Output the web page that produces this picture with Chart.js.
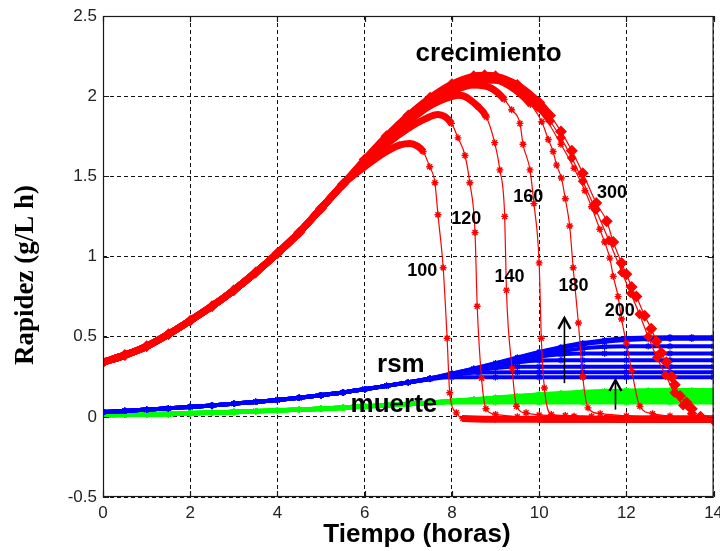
<!DOCTYPE html>
<html>
<head>
<meta charset="utf-8">
<script src="https://cdn.jsdelivr.net/npm/chart.js@4.4.1/dist/chart.umd.min.js"></script>
<style>
  html, body { margin: 0; padding: 0; background: #fff; }
  canvas { display: block; }
</style>
</head>
<body>
<canvas id="grafica" width="720" height="551"></canvas>
<script>
// Ejes
const xTicks = [0, 2, 4, 6, 8, 10, 12, 14];
const yTicks = [-0.5, 0, 0.5, 1, 1.5, 2, 2.5];
const etiquetasX = ['0', '2', '4', '6', '8', '10', '12', '14'];
const etiquetasY = ['-0.5', '0', '0.5', '1', '1.5', '2', '2.5'];

// Rapidez de crecimiento: tramo común (h, g/L h)
const tBase = [0, 0.5, 1, 1.5, 2, 2.5, 3, 3.5, 4, 4.5, 5, 5.5];
const cBase = [0.34, 0.385, 0.44, 0.515, 0.60, 0.69, 0.79, 0.90, 1.02, 1.15, 1.30, 1.45];

// Rapidez de crecimiento: tramo propio de cada caso
const t100 = [6, 6.5, 6.8, 7.04, 7.2, 7.34, 7.49, 7.61, 7.68, 7.8, 7.89, 7.95, 8.1, 8.25, 9, 10, 11, 12, 13, 14];
const c100 = [1.56, 1.655, 1.695, 1.705, 1.69, 1.655, 1.56, 1.46, 1.26, 0.93, 0.49, 0.15, 0.025, -0.01, -0.015, -0.015, -0.015, -0.015, -0.015, -0.015];
const t120 = [6, 6.5, 7, 7.4, 7.68, 7.99, 8.14, 8.3, 8.41, 8.53, 8.58, 8.68, 8.78, 9.0, 9.5, 10, 11, 12, 13, 14];
const c120 = [1.575, 1.70, 1.80, 1.86, 1.885, 1.83, 1.74, 1.63, 1.46, 1.15, 0.69, 0.24, 0.05, 0.015, 0.0, -0.015, -0.015, -0.015, -0.015, -0.015];
const t140 = [6, 6.5, 7, 7.5, 7.8, 8.18, 8.6, 8.79, 8.98, 9.1, 9.21, 9.25, 9.38, 9.48, 9.7, 10, 10.8, 11.5, 12, 13, 14];
const c140 = [1.58, 1.72, 1.84, 1.94, 1.98, 2.005, 1.935, 1.87, 1.71, 1.54, 1.25, 0.79, 0.30, 0.066, 0.025, 0.012, 0.004, -0.01, -0.015, -0.015, -0.015];
const t160 = [6, 6.5, 7, 7.5, 8, 8.5, 8.9, 9.2, 9.37, 9.56, 9.63, 9.79, 9.88, 10.0, 10.05, 10.12, 10.28, 10.6, 11.2, 12, 12.5, 13, 14];
const c160 = [1.59, 1.73, 1.86, 1.96, 2.03, 2.07, 2.05, 1.98, 1.915, 1.83, 1.70, 1.54, 1.33, 0.96, 0.49, 0.18, 0.015, 0.008, 0.003, -0.01, -0.015, -0.015, -0.015];
const t180 = [6, 6.5, 7, 7.5, 8, 8.5, 9, 9.5, 9.8, 10.06, 10.21, 10.32, 10.4, 10.51, 10.6, 10.7, 10.78, 10.9, 11.0, 11.12, 11.4, 12, 12.6, 13, 14];
const c180 = [1.59, 1.735, 1.865, 1.97, 2.05, 2.10, 2.10, 2.03, 1.95, 1.84, 1.73, 1.655, 1.57, 1.49, 1.36, 1.19, 0.93, 0.585, 0.25, 0.056, 0.02, 0.006, -0.01, -0.015, -0.015];
const t200 = [6, 6.5, 7, 7.5, 8, 8.5, 9, 9.5, 10, 10.5, 10.8, 11.05, 11.2, 11.39, 11.5, 11.62, 11.7, 11.81, 11.89, 12.0, 12.12, 12.31, 12.6, 13, 13.5, 14];
const c200 = [1.595, 1.74, 1.87, 1.975, 2.06, 2.11, 2.11, 2.05, 1.92, 1.70, 1.55, 1.41, 1.31, 1.17, 1.09, 0.99, 0.876, 0.75, 0.61, 0.46, 0.29, 0.066, 0.02, 0.005, -0.01, -0.015];
const t250 = [6, 6.5, 7, 7.5, 8, 8.5, 8.75, 9, 9.5, 10, 10.25, 10.5, 10.75, 11, 11.3, 11.6, 11.9, 12.1, 12.3, 12.5, 12.7, 12.9, 13.1, 13.3, 13.5, 13.7, 14];
const c250 = [1.60, 1.745, 1.875, 1.98, 2.065, 2.115, 2.12, 2.11, 2.05, 1.93, 1.845, 1.74, 1.615, 1.47, 1.29, 1.10, 0.90, 0.77, 0.64, 0.50, 0.37, 0.26, 0.15, 0.07, 0.02, -0.005, -0.02];
const t300 = [6, 6.5, 7, 7.5, 8, 8.5, 8.75, 9, 9.5, 10, 10.25, 10.5, 10.75, 11, 11.31, 11.55, 11.7, 11.89, 12.0, 12.12, 12.23, 12.42, 12.57, 12.69, 12.8, 12.92, 13.04, 13.11, 13.23, 13.38, 13.5, 13.7, 14];
const c300 = [1.605, 1.75, 1.88, 1.99, 2.075, 2.125, 2.13, 2.125, 2.07, 1.96, 1.88, 1.78, 1.66, 1.52, 1.333, 1.22, 1.09, 0.96, 0.89, 0.81, 0.75, 0.63, 0.55, 0.47, 0.40, 0.34, 0.25, 0.20, 0.13, 0.09, 0.05, 0.0, -0.02];

// rsm y muerte: tramo común
const tComun = [0, 0.5, 1, 1.5, 2, 2.5, 3, 3.5, 4, 4.5, 5, 5.5, 6, 6.5, 7];
const rBase = [0.03, 0.037, 0.045, 0.053, 0.062, 0.071, 0.082, 0.093, 0.105, 0.119, 0.135, 0.152, 0.172, 0.193, 0.215];
const mBase = [0.010, 0.012, 0.015, 0.018, 0.022, 0.026, 0.030, 0.035, 0.040, 0.045, 0.050, 0.057, 0.065, 0.072, 0.080];

// rsm y muerte: tramos propios
const tr100 = [7.5, 8, 9, 10, 11, 12, 13, 14];
const r100 = [0.235, 0.247, 0.247, 0.247, 0.247, 0.247, 0.247, 0.247];
const m100 = [0.086, 0.09, 0.09, 0.09, 0.09, 0.09, 0.09, 0.09];
const tr120 = [7.5, 8, 8.6, 9.5, 10, 11, 12, 13, 14];
const r120 = [0.237, 0.26, 0.276, 0.278, 0.278, 0.278, 0.278, 0.278, 0.278];
const m120 = [0.087, 0.095, 0.10, 0.101, 0.101, 0.101, 0.101, 0.101, 0.101];
const tr140 = [7.5, 8, 8.5, 9, 9.5, 10, 11, 12, 13, 14];
const r140 = [0.238, 0.262, 0.285, 0.305, 0.313, 0.313, 0.313, 0.313, 0.313, 0.313];
const m140 = [0.087, 0.096, 0.104, 0.11, 0.112, 0.112, 0.112, 0.112, 0.112, 0.112];
const tr160 = [7.5, 8, 8.5, 9, 9.5, 10, 10.5, 11, 12, 13, 14];
const r160 = [0.238, 0.264, 0.29, 0.315, 0.34, 0.352, 0.353, 0.353, 0.353, 0.353, 0.353];
const m160 = [0.088, 0.097, 0.106, 0.114, 0.12, 0.124, 0.125, 0.125, 0.125, 0.125, 0.125];
const tr180 = [7.5, 8, 8.5, 9, 9.5, 10, 10.5, 11, 11.5, 12, 13, 14];
const r180 = [0.238, 0.265, 0.292, 0.32, 0.348, 0.375, 0.39, 0.395, 0.395, 0.395, 0.395, 0.395];
const m180 = [0.088, 0.097, 0.107, 0.116, 0.124, 0.131, 0.135, 0.137, 0.137, 0.137, 0.137, 0.137];
const tr200 = [7.5, 8, 8.5, 9, 9.5, 10, 10.5, 11, 11.5, 12, 12.5, 13, 14];
const r200 = [0.238, 0.266, 0.295, 0.325, 0.355, 0.383, 0.408, 0.427, 0.437, 0.44, 0.44, 0.44, 0.44];
const m200 = [0.088, 0.097, 0.107, 0.117, 0.126, 0.135, 0.142, 0.147, 0.149, 0.15, 0.15, 0.15, 0.15];
const tr250 = [7.5, 8, 8.5, 9, 9.5, 10, 10.5, 11, 11.5, 12, 12.5, 13, 13.5, 14];
const r250 = [0.24, 0.27, 0.30, 0.333, 0.366, 0.40, 0.428, 0.452, 0.468, 0.479, 0.485, 0.487, 0.487, 0.487];
const m250 = [0.088, 0.097, 0.108, 0.118, 0.128, 0.137, 0.145, 0.152, 0.157, 0.16, 0.161, 0.162, 0.162, 0.162];
const tr300 = [7.5, 8, 8.5, 9, 9.5, 10, 10.5, 11, 11.5, 12, 12.5, 13, 13.5, 14];
const r300 = [0.24, 0.27, 0.30, 0.335, 0.37, 0.405, 0.435, 0.46, 0.478, 0.49, 0.495, 0.497, 0.497, 0.497];
const m300 = [0.088, 0.097, 0.108, 0.119, 0.129, 0.139, 0.148, 0.155, 0.16, 0.163, 0.165, 0.166, 0.166, 0.166];

// Rótulos y flechas (coordenadas en unidades de los ejes)
const rotulos = [
  { texto: 'crecimiento', x: 8.84, y: 2.22, tam: 26 },
  { texto: 'rsm', x: 6.83, y: 0.28, tam: 26 },
  { texto: 'muerte', x: 6.67, y: 0.031, tam: 26 },
  { texto: '100', x: 7.32, y: 0.88, tam: 18 },
  { texto: '120', x: 8.33, y: 1.20, tam: 18 },
  { texto: '140', x: 9.32, y: 0.84, tam: 18 },
  { texto: '160', x: 9.75, y: 1.34, tam: 18 },
  { texto: '180', x: 10.79, y: 0.786, tam: 18 },
  { texto: '200', x: 11.85, y: 0.63, tam: 18 },
  { texto: '300', x: 11.67, y: 1.366, tam: 18 }
];
const flechas = [
  { x: 10.58, y0: 0.21, y1: 0.617 },
  { x: 11.75, y0: 0.045, y1: 0.23 }
];

const ROJO = '#ff0000', AZUL = '#0000ff', VERDE = '#00ff00';
const SANS = '"Liberation Sans", Arial, sans-serif';
const SERIF = '"Liberation Serif", "Times New Roman", serif';

const pares = (t, v) => t.map((x, i) => ({ x, y: v[i] }));

// Grosor del trazo de crecimiento: banda densa donde la curva es suave, línea fina en las caídas
function anchoCrec(ctx) {
  const a = ctx.p0.parsed, b = ctx.p1.parsed;
  if (a.y <= -0.005 && b.y <= -0.005) return 7;
  const m = Math.abs((b.y - a.y) / (b.x - a.x));
  return (m < 0.35 && Math.min(a.y, b.y) > 0.1) ? 7 : 1.2;
}

const casosCrec = [
  [t100, c100, 'star', 3.5], [t120, c120, 'star', 3.5], [t140, c140, 'star', 3.5],
  [t160, c160, 'star', 3.5], [t180, c180, 'star', 3.5], [t200, c200, 'star', 3.5],
  [t250, c250, 'rectRot', 4], [t300, c300, 'rectRot', 5]
];
const casosRm = [
  [tr100, r100, m100], [tr120, r120, m120], [tr140, r140, m140], [tr160, r160, m160],
  [tr180, r180, m180], [tr200, r200, m200], [tr250, r250, m250], [tr300, r300, m300]
];

const datasets = [];
casosCrec.forEach(([t, v, estilo, radio]) => {
  datasets.push({
    data: pares(tBase.concat(t), cBase.concat(v)),
    borderColor: ROJO, backgroundColor: ROJO,
    pointBorderColor: ROJO, pointBackgroundColor: ROJO,
    pointStyle: estilo, pointRadius: radio, pointBorderWidth: 1.4,
    borderWidth: 1.2, cubicInterpolationMode: 'monotone',
    segment: { borderWidth: anchoCrec },
    order: 1
  });
});
casosRm.forEach(([t, r, m]) => {
  datasets.push({
    data: pares(tComun.concat(t), rBase.concat(r)),
    borderColor: AZUL, pointBorderColor: AZUL, backgroundColor: AZUL,
    pointStyle: 'star', pointRadius: 3.2, pointBorderWidth: 1.2,
    borderWidth: 4, cubicInterpolationMode: 'monotone', order: 2
  });
  datasets.push({
    data: pares(tComun.concat(t), mBase.concat(m)),
    borderColor: VERDE, pointBorderColor: VERDE, backgroundColor: VERDE,
    pointStyle: 'star', pointRadius: 3.2, pointBorderWidth: 1.2,
    borderWidth: 4.4, cubicInterpolationMode: 'monotone', order: 3
  });
});

// Caja, marcas interiores, flechas, rótulos y títulos de los ejes
const decoracion = {
  id: 'decoracion',
  afterDatasetsDraw(chart) {
    const { ctx, chartArea: a, scales: { x, y } } = chart;
    ctx.save();
    ctx.setLineDash([]);
    ctx.strokeStyle = '#1a1a1a';
    ctx.lineWidth = 1.2;
    ctx.strokeRect(a.left + 0.5, a.top + 0.5, a.right - a.left - 1, a.bottom - a.top - 1);
    ctx.beginPath();
    xTicks.forEach(v => {
      const px = Math.round(x.getPixelForValue(v)) + 0.5;
      ctx.moveTo(px, a.bottom); ctx.lineTo(px, a.bottom - 6);
      ctx.moveTo(px, a.top); ctx.lineTo(px, a.top + 6);
    });
    yTicks.forEach(v => {
      const py = Math.round(y.getPixelForValue(v)) + 0.5;
      ctx.moveTo(a.left, py); ctx.lineTo(a.left + 6, py);
      ctx.moveTo(a.right, py); ctx.lineTo(a.right - 6, py);
    });
    ctx.stroke();

    ctx.strokeStyle = '#000';
    flechas.forEach(f => {
      const px = x.getPixelForValue(f.x), p0 = y.getPixelForValue(f.y0), p1 = y.getPixelForValue(f.y1);
      ctx.lineWidth = 1.6;
      ctx.beginPath();
      ctx.moveTo(px, p0); ctx.lineTo(px, p1);
      ctx.stroke();
      ctx.lineWidth = 2.4;
      ctx.beginPath();
      ctx.moveTo(px - 6, p1 + 11); ctx.lineTo(px, p1); ctx.lineTo(px + 6, p1 + 11);
      ctx.stroke();
    });

    ctx.fillStyle = '#000';
    ctx.textAlign = 'center';
    ctx.textBaseline = 'alphabetic';
    rotulos.forEach(r => {
      ctx.font = 'bold ' + r.tam + 'px ' + SANS;
      ctx.fillText(r.texto, x.getPixelForValue(r.x), y.getPixelForValue(r.y));
    });

    ctx.font = 'bold 26px ' + SANS;
    ctx.fillText('Tiempo (horas)', 417, 542);
    ctx.translate(33, 275);
    ctx.rotate(-Math.PI / 2);
    ctx.font = 'bold 27px ' + SERIF;
    ctx.fillText('Rapidez (g/L h)', 0, 0);
    ctx.restore();
  }
};

new Chart(document.getElementById('grafica'), {
  type: 'line',
  data: { datasets },
  options: {
    responsive: false,
    animation: false,
    events: [],
    layout: { padding: { left: 0, right: 6, top: 16, bottom: 0 } },
    plugins: { legend: { display: false }, tooltip: { enabled: false } },
    scales: {
      x: {
        type: 'linear', min: 0, max: 14,
        afterBuildTicks: s => { s.ticks = xTicks.map(v => ({ value: v })); },
        afterFit: s => { s.height = 54; s.paddingLeft = 0; s.paddingRight = 0; },
        grid: { color: '#111', lineWidth: 1, drawTicks: false },
        border: { display: false, dash: [4, 3] },
        ticks: {
          padding: 6, color: '#222', autoSkip: false, maxRotation: 0,
          font: { family: SANS, size: 17 },
          callback: (v, i) => etiquetasX[i]
        }
      },
      y: {
        type: 'linear', min: -0.5, max: 2.5,
        afterBuildTicks: s => { s.ticks = yTicks.map(v => ({ value: v })); },
        afterFit: s => { s.width = 103; s.paddingTop = 0; s.paddingBottom = 0; },
        grid: { color: '#111', lineWidth: 1, drawTicks: false },
        border: { display: false, dash: [4, 3] },
        ticks: {
          padding: 6, color: '#222', autoSkip: false,
          font: { family: SANS, size: 17 },
          callback: (v, i) => etiquetasY[i]
        }
      }
    }
  },
  plugins: [decoracion]
});
</script>
</body>
</html>
